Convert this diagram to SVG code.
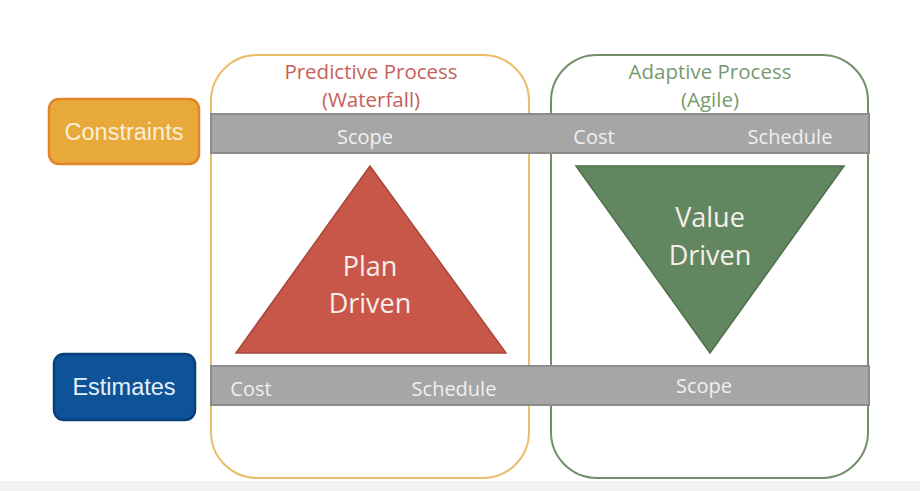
<svg xmlns="http://www.w3.org/2000/svg" width="920" height="491" viewBox="0 0 920 491">
<style>
.t{font-family:"Open Sans","Liberation Sans",sans-serif;text-anchor:middle}
.bar{fill:#A6A6A6;stroke:#8C8C8C;stroke-width:2}
.bl{font-size:20px;fill:#F0F0F0}
.hd{font-size:20.5px}
.tri{font-size:27px;fill:#F7EEEA}
.side{font-family:"Liberation Sans",Arial,sans-serif;font-size:23.5px;text-anchor:middle}
</style>
<rect x="0" y="0" width="920" height="491" fill="#FFFFFF"/>
<rect x="0" y="481" width="920" height="10" fill="#F2F2F2"/>
<g id="predictive">
<rect x="211" y="55" width="318" height="423" rx="46" fill="none" stroke="#EABD6B" stroke-width="2"/>
<text class="t hd" x="371" y="79" fill="#C65F5A">Predictive Process</text>
<text class="t hd" x="371" y="107" fill="#C65F5A">(Waterfall)</text>
</g>
<g id="adaptive">
<rect x="551" y="55" width="317" height="423" rx="46" fill="none" stroke="#718F69" stroke-width="2"/>
<text class="t hd" x="710" y="79" fill="#779A6E">Adaptive Process</text>
<text class="t hd" x="710" y="107" fill="#779A6E">(Agile)</text>
</g>
<g id="constraints-bar">
<rect class="bar" x="211" y="114" width="658" height="39"/>
<text class="t bl" x="365" y="144">Scope</text>
<text class="t bl" x="594" y="144">Cost</text>
<text class="t bl" x="790" y="144">Schedule</text>
</g>
<g id="estimates-bar">
<rect class="bar" x="211" y="366" width="658" height="39"/>
<text class="t bl" x="251" y="396">Cost</text>
<text class="t bl" x="454" y="396">Schedule</text>
<text class="t bl" x="704" y="393">Scope</text>
</g>
<g id="plan-driven">
<polygon points="370,166 236,353 506,353" fill="#C8574A" stroke="#A8463B" stroke-width="1.5"/>
<text class="t tri" x="370" y="276">Plan</text>
<text class="t tri" x="370" y="313">Driven</text>
</g>
<g id="value-driven">
<polygon points="576,166 844,166 710,353" fill="#628760" stroke="#4E6F4B" stroke-width="1.5"/>
<text class="t tri" x="710" y="227">Value</text>
<text class="t tri" x="710" y="265">Driven</text>
</g>
<g id="constraints">
<rect x="49" y="99" width="150" height="65" rx="10" fill="#E8A93B" stroke="#E2842A" stroke-width="2.5"/>
<text class="side" x="124" y="140" fill="#FBEFD8">Constraints</text>
</g>
<g id="estimates">
<rect x="54" y="354" width="141" height="66" rx="10" fill="#0E5297" stroke="#0A4079" stroke-width="2.5"/>
<text class="side" x="124" y="395" fill="#E6F0FA">Estimates</text>
</g>
<g id="connectors"/>
</svg>
